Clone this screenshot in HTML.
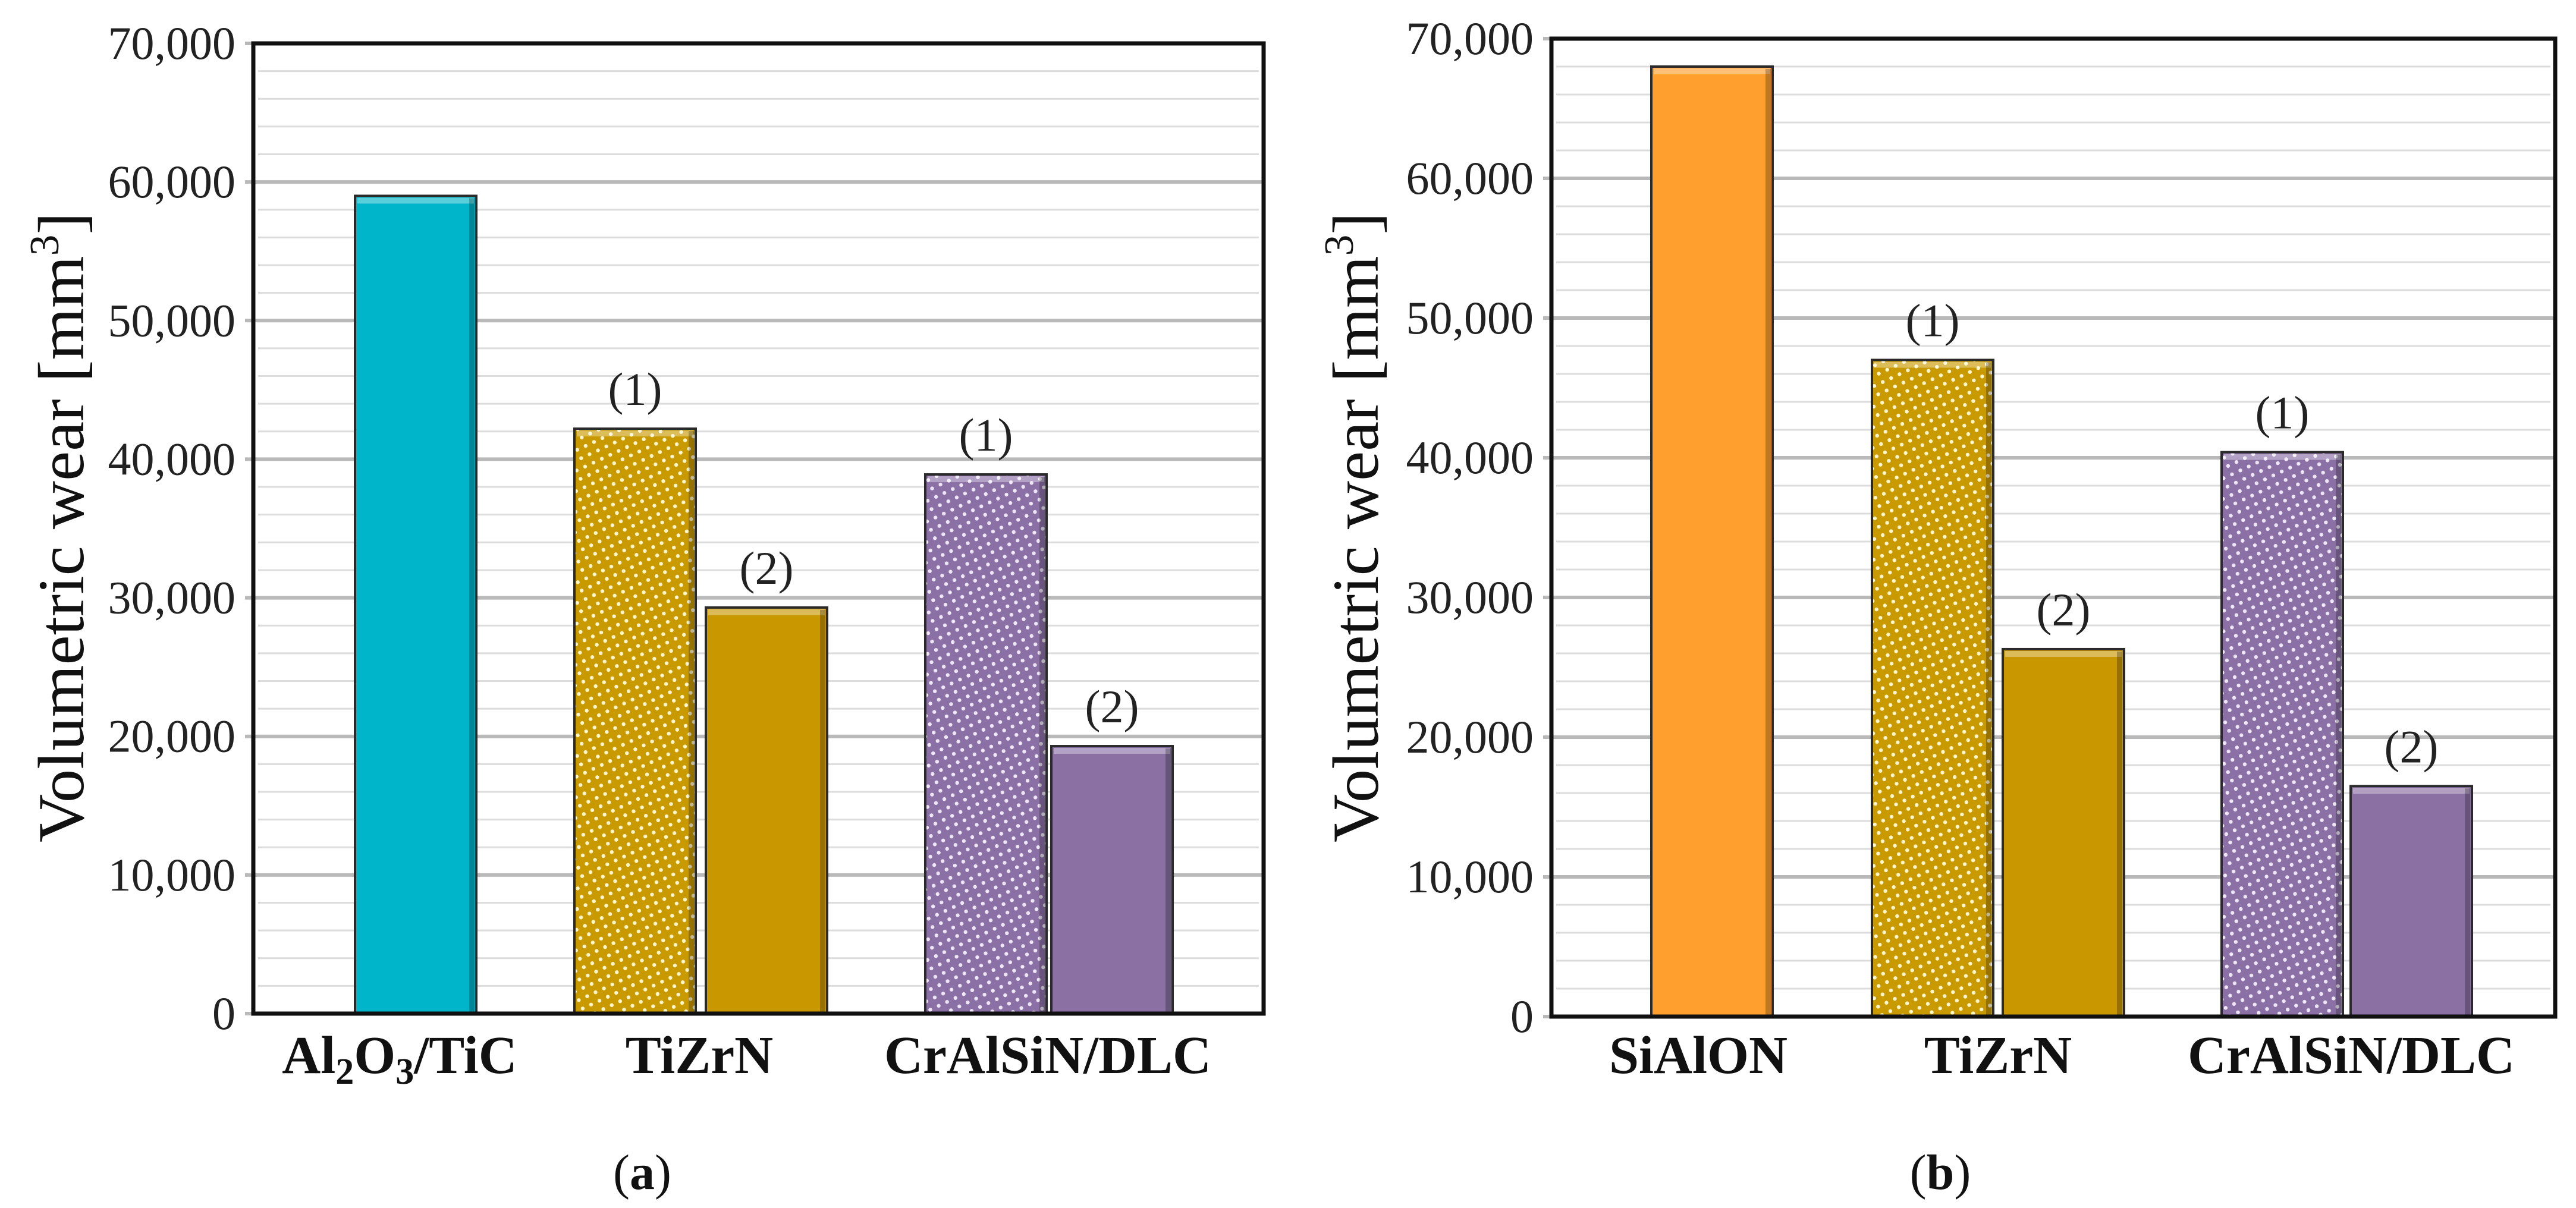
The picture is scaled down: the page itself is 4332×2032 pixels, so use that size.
<!DOCTYPE html>
<html><head><meta charset="utf-8">
<style>
html,body{margin:0;padding:0;background:#fff;}
svg{display:block;}
text{font-family:"Liberation Serif",serif;}
</style></head>
<body>
<svg id="chart" width="4332" height="2032" viewBox="0 0 4332 2032" xmlns="http://www.w3.org/2000/svg">
<defs>
<pattern id="dotsGold" width="22" height="22" patternUnits="userSpaceOnUse" patternTransform="rotate(20)">
<rect width="22" height="22" fill="#C99A00"/>
<circle cx="5" cy="5" r="3.2" fill="#fff6d0"/>
<circle cx="16" cy="16" r="3.2" fill="#fff6d0"/>
</pattern>
<pattern id="dotsPurple" width="22" height="22" patternUnits="userSpaceOnUse" patternTransform="rotate(20)">
<rect width="22" height="22" fill="#8B70A6"/>
<circle cx="5" cy="5" r="3.2" fill="#efe6f7"/>
<circle cx="16" cy="16" r="3.2" fill="#efe6f7"/>
</pattern>
</defs>
</svg>
<script>
// Panel (a)
const catsA = ["Al2O3/TiC", "TiZrN", "CrAlSiN/DLC"];
const valuesA = [59000, 42200, 29300, 38900, 19300];
// Panel (b)
const catsB = ["SiAlON", "TiZrN", "CrAlSiN/DLC"];
const valuesB = [68000, 47000, 26300, 40400, 16500];
const barLabels = ["", "(1)", "(2)", "(1)", "(2)"];
const yTicks = [0, 10000, 20000, 30000, 40000, 50000, 60000, 70000];
const yTickLabels = ["0", "10,000", "20,000", "30,000", "40,000", "50,000", "60,000", "70,000"];

const NS = "http://www.w3.org/2000/svg";
const svg = document.getElementById("chart");
function mk(tag, attrs, parent) {
  const e = document.createElementNS(NS, tag);
  for (const k in attrs) e.setAttribute(k, attrs[k]);
  (parent || svg).appendChild(e);
  return e;
}

function drawPanel(p) {
  const g = mk("g", {});
  
  
  const yMax = 70000;
  const y = v => p.bottom - (v / yMax) * (p.bottom - p.top);
  for (let v = 2000; v < yMax; v += 2000) {
    if (v % 10000 === 0) continue;
    const l = mk("line", {x1: p.left + 8, x2: p.right - 8, y1: y(v), y2: y(v), stroke: "#dcdcdc", "stroke-width": 3}, g);
    
    
  }
  yTicks.forEach((v, i) => {
    if (v > 0 && v < yMax) {
      const l = mk("line", {x1: p.left - 14, x2: p.right, y1: y(v), y2: y(v), stroke: "#b9b9b9", "stroke-width": 6}, g);
      
      
    } else {
      const l = mk("line", {x1: p.left - 14, x2: p.left, y1: y(v), y2: y(v), stroke: "#b9b9b9", "stroke-width": 6}, g);
      
      
    }
    const t = mk("text", {x: p.left - 30, y: y(v) + 26, "text-anchor": "end", "font-size": 78, fill: "#222"}, g);
    t.textContent = yTickLabels[i];
    
    
  });
  const fills = p.fills;
  p.values.forEach((v, i) => {
    const x0 = p.barX[i], w = p.barW;
    const yt = y(v), h = p.bottom - yt;
    const r = mk("rect", {x: x0, y: yt, width: w, height: h, fill: fills[i], stroke: "#2a2a2a", "stroke-width": 4}, g);
    
    
    const bev = mk("rect", {x: x0 + 4, y: yt + 3, width: w - 8, height: 10, fill: "#ffffff", opacity: 0.35}, g);
    
    
    const sh = mk("rect", {x: x0 + w - 12, y: yt + 4, width: 9, height: h - 6, fill: "#000", opacity: 0.25}, g);
    
    
    if (barLabels[i]) {
      const t = mk("text", {x: x0 + w / 2, y: yt - 40, "text-anchor": "middle", "font-size": 78, fill: "#222"}, g);
      t.textContent = barLabels[i];
      
      
    }
  });
  const f = mk("rect", {x: p.left, y: p.top, width: p.right - p.left, height: p.bottom - p.top, fill: "none", stroke: "#111", "stroke-width": 7}, g);
  
  
  p.cats.forEach((c, i) => {
    const t = mk("text", {x: p.catX[i], y: 1805, "text-anchor": "middle", "font-size": 90, "font-weight": "bold", fill: "#111"}, g);
    if (c === "Al2O3/TiC") {
      t.innerHTML = 'Al<tspan font-size="62" dy="18">2</tspan><tspan dy="-18">O</tspan><tspan font-size="62" dy="18">3</tspan><tspan dy="-18">/TiC</tspan>';
    } else t.textContent = c;
    
    
  });
  const yt = mk("text", {x: 0, y: 0, transform: "translate(" + p.titleX + ",887) rotate(-90)", "text-anchor": "middle", "font-size": 110, fill: "#111", textLength: 1060, lengthAdjust: "spacingAndGlyphs"}, g);
  yt.innerHTML = 'Volumetric wear [mm<tspan font-size="70" dy="-42">3</tspan><tspan dy="42">]</tspan>';
  
  
  const cap = mk("text", {x: p.capX, y: 2000, "text-anchor": "middle", "font-size": 84, fill: "#111"}, g);
  cap.innerHTML = '(<tspan font-weight="bold">' + p.id + '</tspan>)';
  
  
}

drawPanel({
  id: "a", left: 426, right: 2125, top: 73, bottom: 1705,
  values: valuesA, cats: catsA,
  barX: [597, 966, 1187, 1556, 1768], barW: 204,
  fills: ["#00B5CA", "url(#dotsGold)", "#C99700", "url(#dotsPurple)", "#8A70A3"],
  catX: [672, 1176, 1762], titleX: 140, capX: 1080
});
drawPanel({
  id: "b", left: 2609, right: 4297, top: 65, bottom: 1710,
  values: valuesB, cats: catsB,
  barX: [2777, 3148, 3368, 3736, 3953], barW: 204,
  fills: ["#FFA02E", "url(#dotsGold)", "#C99700", "url(#dotsPurple)", "#8A70A3"],
  catX: [2856, 3360, 3954], titleX: 2317, capX: 3263
});
</script>
</body></html>
